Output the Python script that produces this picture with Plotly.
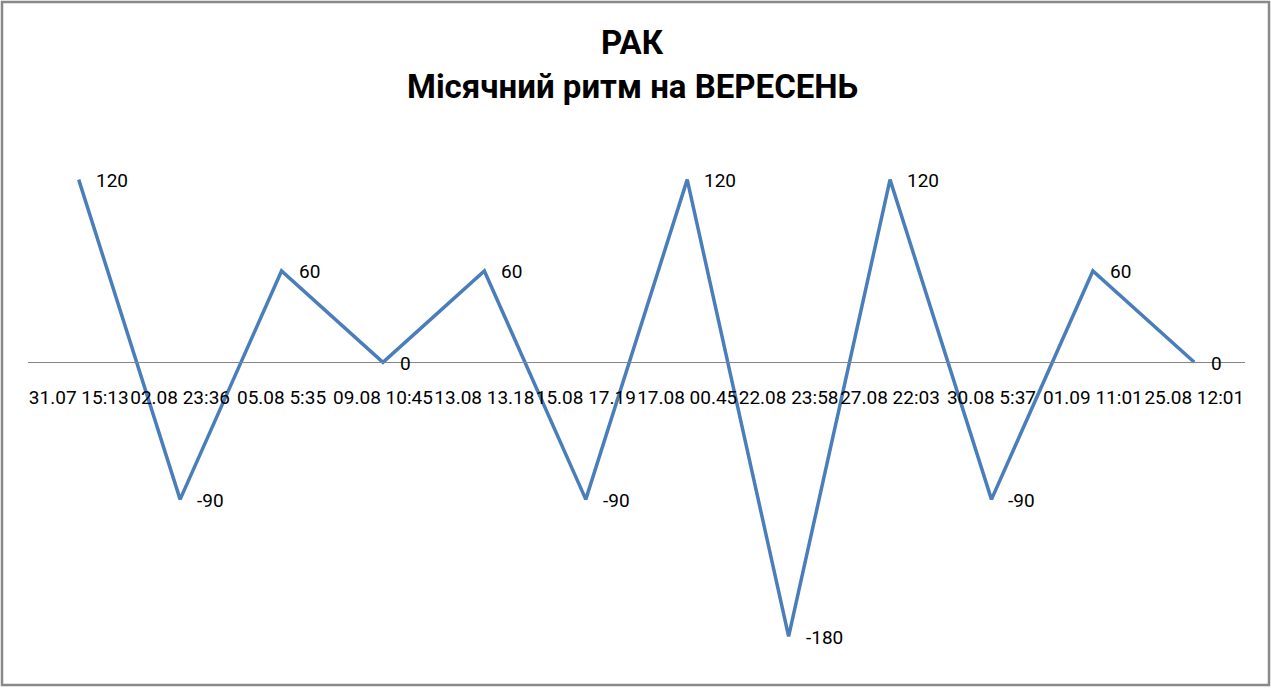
import plotly.graph_objects as go

# Data
dates = ["31.07 15:13", "02.08 23:36", "05.08 5:35", "09.08 10:45",
         "13.08 13.18", "15.08 17.19", "17.08 00.45", "22.08 23:58",
         "27.08 22:03", "30.08 5:37", "01.09 11:01", "25.08 12:01"]
rhythm = [120, -90, 60, 0, 60, -90, 120, -180, 120, -90, 60, 0]

W, H = 1271, 688
ml, mr, mt, mb = 28, 26, 172, 44
y_lo, y_hi = -185, 125

fig = go.Figure()
fig.add_trace(go.Scatter(x=dates, y=rhythm, mode='lines',
                         line=dict(color='#4A7EBB', width=3.5),
                         hoverinfo='x+y', showlegend=False))

# data labels to the right of each point
for d, v in zip(dates, rhythm):
    fig.add_annotation(x=d, y=v, text=str(v), showarrow=False,
                       xanchor='left', yanchor='middle', xshift=15, yshift=-1,
                       font=dict(family='Roboto', size=19, color='#000000'))

# zero axis with labels, anchored at y=0 inside the plot
zero_pos = (0 - y_lo) / (y_hi - y_lo)
fig.update_xaxes(type='category', range=[-0.5, len(dates) - 0.5],
                 showgrid=False, zeroline=False,
                 showline=True, linecolor='#868686', linewidth=1,
                 anchor='free', position=zero_pos,
                 ticks='', ticklabelstandoff=18, tickangle=0,
                 tickfont=dict(family='Roboto', size=19, color='#000000'))
fig.update_yaxes(range=[y_lo, y_hi], visible=False, showgrid=False, zeroline=False)

# outer chart border
pw, ph = W - ml - mr, H - mt - mb
def px_x(x): return (x - ml) / pw
def px_y(y): return (H - mb - y) / ph
fig.add_shape(type='rect', xref='paper', yref='paper',
              x0=px_x(2), x1=px_x(1269), y0=px_y(685), y1=px_y(2),
              line=dict(color='#898989', width=2.5))

# two-line title
for txt, yy in [("РАК", 42), ("Місячний ритм на ВЕРЕСЕНЬ", 87)]:
    fig.add_annotation(xref='paper', yref='paper', x=px_x(632), y=px_y(yy),
                       text="<b>" + txt + "</b>", showarrow=False,
                       xanchor='center', yanchor='middle',
                       font=dict(family='Roboto', size=33, color='#000000'))

fig.update_layout(width=W, height=H, autosize=False,
                  margin=dict(l=ml, r=mr, t=mt, b=mb),
                  paper_bgcolor='white', plot_bgcolor='white')

fig.write_html("out.html",
               config={'responsive': False, 'displayModeBar': False},
               post_script="document.body.style.margin='0';")
